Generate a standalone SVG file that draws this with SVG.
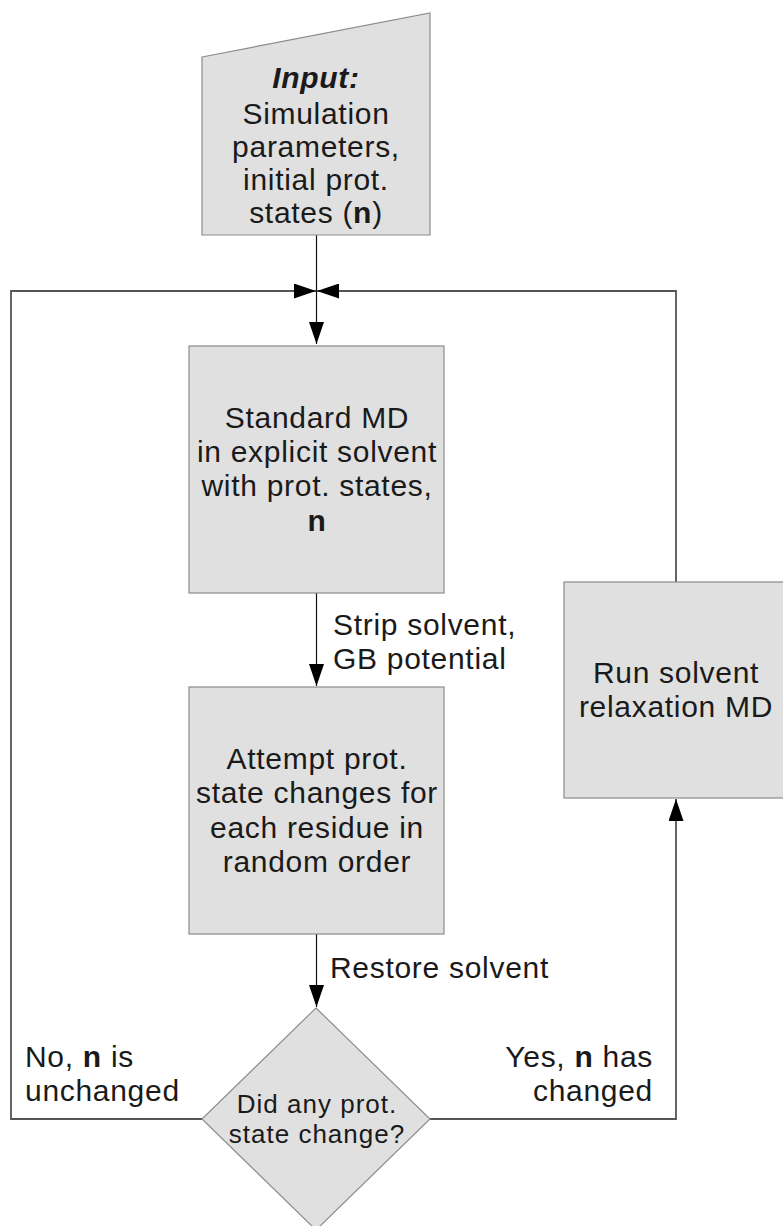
<svg xmlns="http://www.w3.org/2000/svg" width="783" height="1226" viewBox="0 0 783 1226">
<style>
.node{fill:#e0e0e0;stroke:#8c8c8c;stroke-width:1.2}
.t{font-family:"Liberation Sans",Arial,sans-serif;font-size:30px;fill:#1a1a1a;letter-spacing:0.7px}
.c{text-anchor:middle}
.r{text-anchor:end}
.s{font-size:26px;letter-spacing:1px}
.b{font-weight:bold}
.conn{fill:none;stroke:#111;stroke-width:1.2}
.loop{fill:none;stroke:#555;stroke-width:1.8}
</style>
<defs>
<marker id="ah" markerUnits="userSpaceOnUse" markerWidth="23" markerHeight="15" refX="22" refY="7.5" orient="auto">
<path d="M0,0 L22,7.5 L0,15 z" fill="#000"/>
</marker>
</defs>
<g id="connectors">
<path class="conn" d="M316.5,235 V344" marker-end="url(#ah)"/>
<path class="loop" d="M202,1119 H11 V291 H316" marker-end="url(#ah)"/>
<path class="loop" d="M676,582 V291 H317" marker-end="url(#ah)"/>
<path class="loop" d="M430,1119 H676 V799" marker-end="url(#ah)"/>
<path class="conn" d="M316.5,593 V686" marker-end="url(#ah)"/>
<path class="conn" d="M316.5,934 V1007" marker-end="url(#ah)"/>
<text class="t" x="333" y="635">Strip solvent,</text>
<text class="t" x="333" y="669">GB potential</text>
<text class="t" x="330" y="978">Restore solvent</text>
<text class="t" x="25" y="1067">No, <tspan class="b">n</tspan> is</text>
<text class="t" x="25" y="1101">unchanged</text>
<text class="t r" x="653" y="1067">Yes, <tspan class="b">n</tspan> has</text>
<text class="t r" x="653" y="1101">changed</text>
</g>
<g id="input">
<polygon class="node" points="202,57 430,13 430,235 202,235"/>
<text class="t c" x="316" y="88"><tspan class="b" font-style="italic">Input:</tspan></text>
<text class="t c" x="316" y="124">Simulation</text>
<text class="t c" x="316" y="157">parameters,</text>
<text class="t c" x="316" y="190">initial prot.</text>
<text class="t c" x="316" y="223">states (<tspan class="b">n</tspan>)</text>
</g>
<g id="standard-md">
<rect class="node" x="189" y="346" width="255" height="247"/>
<text class="t c" x="317" y="428">Standard MD</text>
<text class="t c" x="317" y="462">in explicit solvent</text>
<text class="t c" x="317" y="496">with prot. states,</text>
<text class="t c b" x="317" y="531">n</text>
</g>
<g id="attempt">
<rect class="node" x="189" y="687" width="255" height="247"/>
<text class="t c" x="317" y="769">Attempt prot.</text>
<text class="t c" x="317" y="803">state changes for</text>
<text class="t c" x="317" y="838">each residue in</text>
<text class="t c" x="317" y="872">random order</text>
</g>
<g id="relaxation">
<rect class="node" x="564" y="582" width="224" height="216"/>
<text class="t c" x="676" y="683">Run solvent</text>
<text class="t c" x="676" y="717">relaxation MD</text>
</g>
<g id="decision">
<polygon class="node" points="316,1008 430,1119 316,1230 202,1119"/>
<text class="t c s" x="317" y="1113">Did any prot.</text>
<text class="t c s" x="317" y="1143">state change?</text>
</g>
</svg>
